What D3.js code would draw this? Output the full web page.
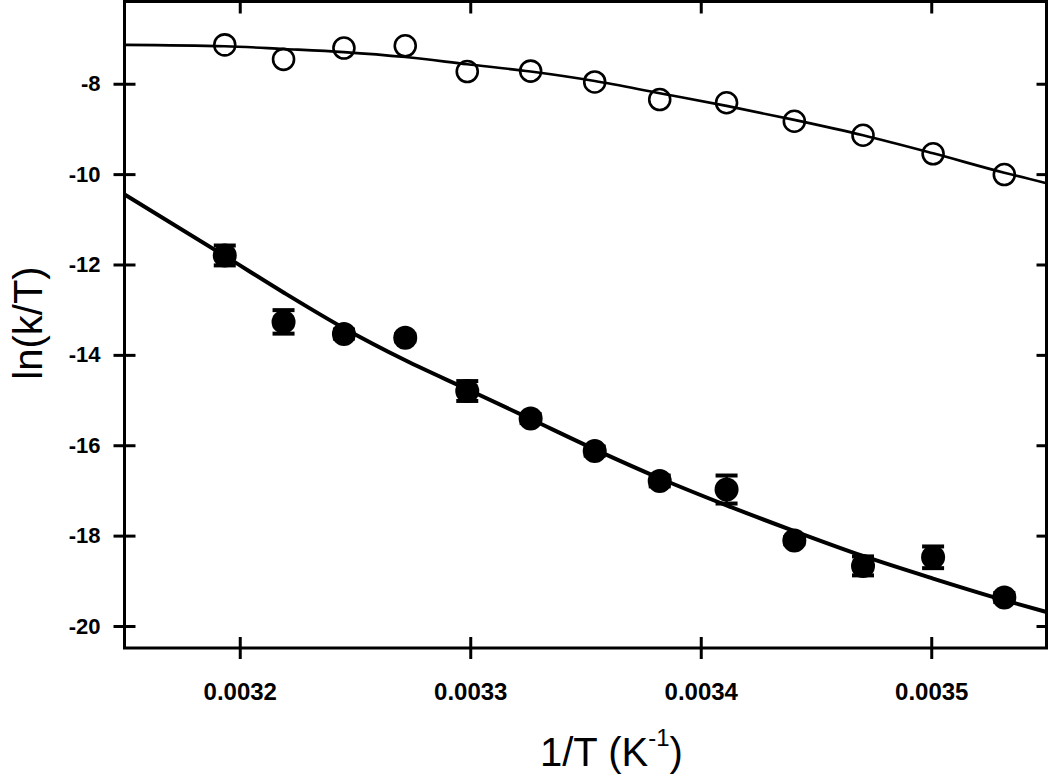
<!DOCTYPE html>
<html>
<head>
<meta charset="utf-8">
<script src="https://cdn.jsdelivr.net/npm/d3@7"></script>
<style>
  html, body { margin: 0; padding: 0; background: #fff; }
  svg { display: block; }
  text { font-family: "Liberation Sans", Arial, Helvetica, sans-serif; fill: #000; }
</style>
</head>
<body>
<svg id="chart" width="1050" height="774"></svg>
<script>
// ---- data ----
const invT = [0.0031935, 0.0032190, 0.0032452, 0.0032718, 0.0032987, 0.0033262, 0.0033540,
              0.0033822, 0.0034112, 0.0034406, 0.0034704, 0.0035008, 0.0035317];
const openY = [-7.14, -7.46, -7.21, -7.16, -7.73, -7.72, -7.96, -8.35, -8.42, -8.83, -9.14, -9.55, -10.01];
const filledY = [-11.80, -13.27, -13.54, -13.62, -14.80, -15.41, -16.13, -16.79, -16.98, -18.11, -18.67, -18.48, -19.37];
const filledErr = [0.22, 0.26, 0.10, 0.08, 0.22, 0.10, 0.10, 0.12, 0.31, 0.08, 0.21, 0.24, 0.10];

// fitted curves, points
const fitX = [0.003150, 0.0031935, 0.0032190, 0.0032452, 0.0032718, 0.0032987, 0.0033262, 0.0033540,
              0.0033822, 0.0034112, 0.0034406, 0.0034704, 0.0035008, 0.0035317, 0.003550];
const fitOpenY = [-7.14, -7.17, -7.23, -7.30, -7.41, -7.57, -7.73, -7.94, -8.21, -8.49, -8.80, -9.14, -9.54, -9.97, -10.20];
const fitFilledY = [-10.45, -11.81, -12.62, -13.41, -14.12, -14.76, -15.42, -16.09, -16.73, -17.33, -17.90, -18.45, -18.95, -19.43, -19.69];

const xTicks = [0.0032, 0.0033, 0.0034, 0.0035];
const xTickLabels = ["0.0032", "0.0033", "0.0034", "0.0035"];
const yTicks = [-20, -18, -16, -14, -12, -10, -8];
const yTickLabels = ["-20", "-18", "-16", "-14", "-12", "-10", "-8"];
const xDomain = [0.00315, 0.00355];
const yDomain = [-20.487, -6.18];

// ---- layout ----
const svg = d3.select("#chart");
const L = 124.5, R = 1046.5, T = 1.5, B = 648;
const x = d3.scaleLinear().domain(xDomain).range([L, R]);
const y = d3.scaleLinear().domain(yDomain).range([B, T]);

// fitted lines
const line = d3.line().x(d => x(d[0])).y(d => y(d[1])).curve(d3.curveMonotoneX);
svg.append("path").datum(d3.zip(fitX, fitOpenY))
  .attr("d", line).attr("fill", "none").attr("stroke", "#000").attr("stroke-width", 2.6);
svg.append("path").datum(d3.zip(fitX, fitFilledY))
  .attr("d", line).attr("fill", "none").attr("stroke", "#000").attr("stroke-width", 4);

// error bars for filled series
const eb = svg.append("g").attr("stroke", "#000").attr("stroke-width", 2.5);
invT.forEach((v, i) => {
  const cx = x(v), y1 = y(filledY[i] + filledErr[i]), y2 = y(filledY[i] - filledErr[i]);
  eb.append("line").attr("x1", cx).attr("x2", cx).attr("y1", y1).attr("y2", y2);
  eb.append("line").attr("x1", cx - 11).attr("x2", cx + 11).attr("y1", y1).attr("y2", y1).attr("stroke-width", 4);
  eb.append("line").attr("x1", cx - 11).attr("x2", cx + 11).attr("y1", y2).attr("y2", y2).attr("stroke-width", 4);
});

// filled markers
svg.append("g").selectAll("circle").data(d3.zip(invT, filledY)).join("circle")
  .attr("cx", d => x(d[0])).attr("cy", d => y(d[1])).attr("r", 12).attr("fill", "#000");

// open markers
svg.append("g").selectAll("circle").data(d3.zip(invT, openY)).join("circle")
  .attr("cx", d => x(d[0])).attr("cy", d => y(d[1])).attr("r", 10.5)
  .attr("fill", "none").attr("stroke", "#000").attr("stroke-width", 2.6);

// axes
function styleAxis(g) {
  g.select(".domain").remove();
  g.selectAll(".tick line").attr("stroke", "#000").attr("stroke-width", 3);
}
// left: outer ticks + labels
svg.append("g").attr("transform", `translate(${L},0)`)
  .call(d3.axisLeft(y).tickValues(yTicks).tickSize(11).tickPadding(13)
    .tickFormat((d, i) => yTickLabels[i]))
  .call(styleAxis)
  .call(g => g.selectAll("text").attr("font-size", 22).attr("font-weight", "bold")
    .attr("font-family", "Liberation Sans, Arial, sans-serif"));
// left: inner ticks
svg.append("g").attr("transform", `translate(${L},0)`)
  .call(d3.axisRight(y).tickValues(yTicks).tickSize(11).tickFormat(""))
  .call(styleAxis);
// right: inner ticks
svg.append("g").attr("transform", `translate(${R},0)`)
  .call(d3.axisLeft(y).tickValues(yTicks).tickSize(10).tickFormat(""))
  .call(styleAxis);
// bottom: outer ticks + labels
svg.append("g").attr("transform", `translate(0,${B})`)
  .call(d3.axisBottom(x).tickValues(xTicks).tickSize(11).tickPadding(24)
    .tickFormat((d, i) => xTickLabels[i]))
  .call(styleAxis)
  .call(g => g.selectAll("text").attr("font-size", 24).attr("font-weight", "bold")
    .attr("font-family", "Liberation Sans, Arial, sans-serif"));
// bottom: inner ticks
svg.append("g").attr("transform", `translate(0,${B})`)
  .call(d3.axisTop(x).tickValues(xTicks).tickSize(11).tickFormat(""))
  .call(styleAxis);
// top: inner ticks
svg.append("g").attr("transform", `translate(0,${T})`)
  .call(d3.axisBottom(x).tickValues(xTicks).tickSize(12).tickFormat(""))
  .call(styleAxis);

// frame
svg.append("rect").attr("x", L).attr("y", T).attr("width", R - L).attr("height", B - T)
  .attr("fill", "none").attr("stroke", "#000").attr("stroke-width", 3);

// axis titles
svg.append("text").attr("transform", "translate(42,323) rotate(-90)")
  .attr("text-anchor", "middle").attr("font-size", 40).text("ln(k/T)");

const xt = svg.append("text").attr("x", 540).attr("y", 766).attr("font-size", 40);
xt.append("tspan").text("1/T (K");
xt.append("tspan").attr("font-size", 24).attr("dy", -20).text("-1");
xt.append("tspan").attr("dy", 20).text(")");
</script>
</body>
</html>
